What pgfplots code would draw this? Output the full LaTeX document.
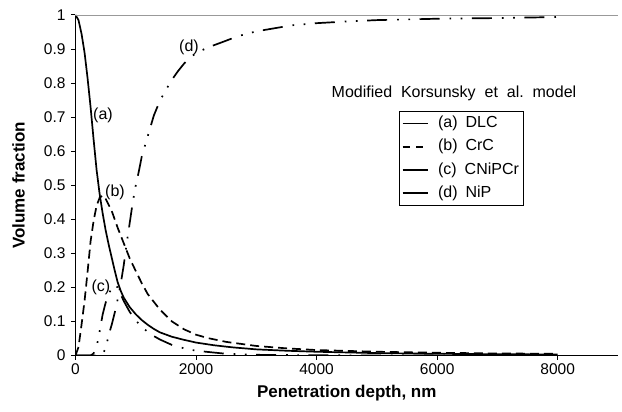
\documentclass[border=0pt]{standalone}
\usepackage{fontspec}
\setmainfont{Liberation Sans}
\usepackage{pgfplots}
\pgfplotsset{compat=1.18}

\pgfplotstableread{
x y
0 1.000
50 0.985
100 0.945
150 0.89
200 0.815
250 0.73
300 0.635
350 0.545
400 0.475
450 0.418
500 0.368
550 0.326
600 0.288
650 0.25
700 0.215
750 0.19
800 0.17
900 0.142
1000 0.121
1100 0.104
1200 0.09
1300 0.078
1400 0.068
1600 0.055
1800 0.046
2000 0.038
2300 0.03
2600 0.024
3000 0.018
3500 0.014
4000 0.011
5000 0.007
6000 0.005
7000 0.0038
8000 0.003
}\dlc

\pgfplotstableread{
x y
0 0
50 0.025
100 0.09
150 0.16
200 0.245
250 0.335
300 0.395
350 0.44
400 0.463
450 0.47
500 0.46
600 0.425
700 0.375
800 0.33
900 0.285
1000 0.248
1100 0.212
1200 0.18
1400 0.135
1600 0.10
1800 0.077
2000 0.061
2200 0.051
2500 0.04
3000 0.028
3500 0.021
4000 0.016
5000 0.011
6000 0.008
7000 0.006
8000 0.005
}\crc

\pgfplotstableread{
x y
0 0
250 0
300 0.006
350 0.025
400 0.07
450 0.12
500 0.155
550 0.18
600 0.198
650 0.207
700 0.2
750 0.18
800 0.16
900 0.128
1000 0.103
1100 0.084
1200 0.069
1300 0.057
1400 0.047
1600 0.031
1800 0.021
2000 0.014
2500 0.005
3000 0.002
4000 0.0005
8000 0
}\cnipcr

\pgfplotstableread{
x y
0 0
400 0
450 0.005
500 0.02
550 0.06
600 0.09
650 0.125
700 0.165
750 0.21
800 0.265
850 0.33
900 0.39
950 0.45
1000 0.5
1050 0.54
1100 0.585
1200 0.645
1300 0.705
1400 0.748
1500 0.78
1600 0.81
1700 0.835
1800 0.857
1900 0.875
2000 0.888
2200 0.905
2400 0.918
2700 0.938
3000 0.952
3300 0.961
3600 0.97
4000 0.976
4500 0.981
5000 0.985
5500 0.987
6000 0.989
7000 0.991
8000 0.994
}\nip

\begin{document}
\begin{tikzpicture}
\begin{axis}[
  scale only axis,
  width=542.5bp, height=340.5bp,
  xmin=0, xmax=9000, ymin=0, ymax=1,
  axis x line*=bottom, axis y line*=left,
  axis line style={line width=1.3bp, black},
  xtick={0,2000,4000,6000,8000},
  ytick={0,0.1,0.2,0.3,0.4,0.5,0.6,0.7,0.8,0.9,1},
  scaled x ticks=false,
  /pgf/number format/set thousands separator={},
  /pgf/number format/assume math mode=true,
  tick align=outside,
  major tick length=4.5bp,
  tick style={line width=1bp, black},
  tick label style={font=\fontsize{15.5bp}{18bp}\selectfont},
  yticklabel style={xshift=-2bp},
  every axis y label/.style={at={(rel axis cs:0,0.5)}, xshift=-57bp, rotate=90, anchor=center},
  every axis x label/.style={at={(rel axis cs:0.5,0)}, yshift=-38bp, anchor=center},
  label style={font=\fontsize{17bp}{20bp}\selectfont\bfseries},
  xlabel={Penetration\ depth,\ nm},
  ylabel={Volume\ fraction},
  legend style={
    at={(rel axis cs:0.597,0.719)}, anchor=north west,
    draw=black, line width=0.8bp, fill=white,
    font=\fontsize{16bp}{19bp}\selectfont,
    inner xsep=2bp, inner ysep=2.6bp,
    row sep=3.8bp, column sep=7bp,
    nodes={inner sep=2bp, text height=12bp, text depth=3.5bp},
  },
  legend cell align=left,
  legend image code/.code={\draw[#1, line width=1.7bp] (0bp,0bp) -- (25.6bp,0bp);},
]
\addplot[black, line width=1.7bp, forget plot] table {\dlc};
\addplot[black, line width=1.7bp, dash pattern=on 9bp off 5bp, forget plot] table {\crc};
\addplot[black, line width=1.7bp, dash pattern=on 20bp off 10bp on 1.7bp off 9.5bp on 1.7bp off 9.5bp, forget plot] table {\cnipcr};
\addplot[black, line width=1.7bp, dash pattern=on 20bp off 10bp on 1.7bp off 9.5bp on 1.7bp off 9.5bp, forget plot] table {\nip};

\addlegendimage{black, solid}
\addlegendentry{(a)\hspace{8bp}DLC}
\addlegendimage{black, dash pattern=on 7bp off 6.5bp}
\addlegendentry{(b)\hspace{8bp}CrC}
\addlegendimage{black, solid}
\addlegendentry{(c)\hspace{8bp}CNiPCr}
\addlegendimage{black, solid}
\addlegendentry{(d)\hspace{8bp}NiP}

\draw[gray!80, line width=0.9bp] (rel axis cs:0,1) -- (rel axis cs:1,1);

\begin{scope}[every node/.style={font=\fontsize{16bp}{19bp}\selectfont, inner sep=0pt}]
\node at (axis cs:456,0.706) {(a)};
\node at (axis cs:655,0.48) {(b)};
\node at (axis cs:423,0.201) {(c)};
\node at (axis cs:1883,0.906) {(d)};
\node[anchor=base] at (axis cs:6279,0.757) {Modified\ \ Korsunsky\ \ et\ \ al.\ \ model};
\end{scope}
\end{axis}
\pgfresetboundingbox
\path (current axis.south west) ++(-75.5bp,-56.5bp) rectangle ++(622bp,412bp);
\end{tikzpicture}
\end{document}
